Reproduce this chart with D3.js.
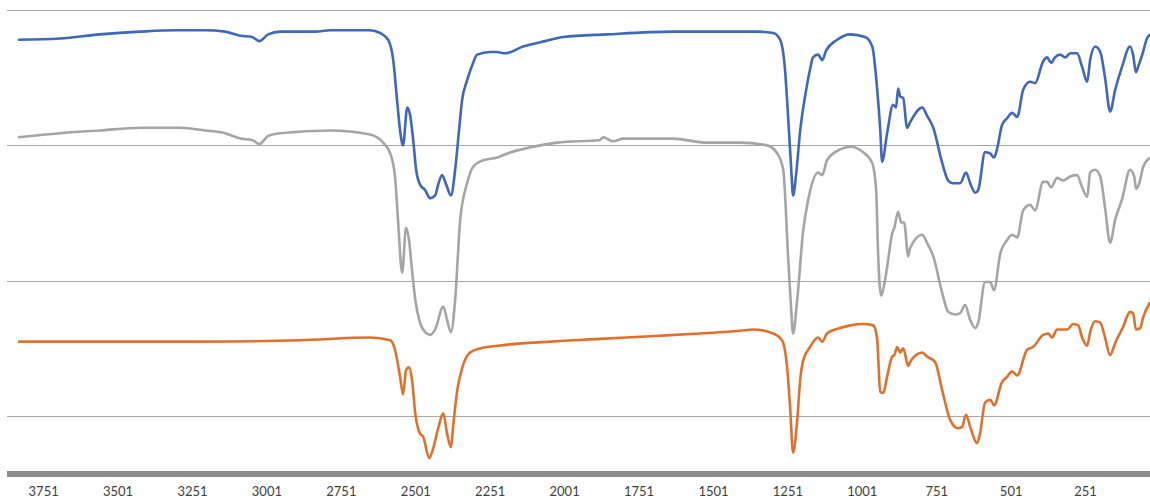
<!DOCTYPE html>
<html>
<head>
<meta charset="utf-8">
<script src="https://cdn.jsdelivr.net/npm/d3@7"></script>
<style>
  html, body { margin: 0; padding: 0; background: #fff; }
  .axis text { font-family: Lato, 'Open Sans', sans-serif; font-size: 13px; fill: #404040; }
</style>
</head>
<body>
<svg id="spectrum"></svg>
<script>
// wavenumber (cm-1) for each reading
const blueX = [3835, 3694, 3560, 3425, 3308, 3207, 3140, 3089, 3049, 3025, 2995, 2955, 2837, 2787, 2653, 2619, 2592, 2575, 2562, 2552, 2542, 2528, 2518, 2508, 2498, 2485, 2468, 2451, 2434, 2424, 2411, 2397, 2381, 2367, 2354, 2344, 2327, 2310, 2293, 2250, 2226, 2199, 2139, 2065, 2004, 1857, 1635, 1353, 1299, 1275, 1259, 1248, 1238, 1232, 1222, 1208, 1191, 1175, 1165, 1148, 1134, 1121, 1084, 1040, 990, 966, 950, 939, 933, 916, 896, 886, 879, 872, 862, 849, 839, 798, 782, 761, 731, 711, 694, 671, 651, 637, 620, 610, 587, 570, 557, 547, 530, 513, 496, 479, 459, 436, 419, 392, 379, 365, 352, 335, 318, 301, 278, 261, 244, 234, 217, 200, 184, 167, 150, 127, 100, 90, 80, 73, 59, 43, 33];
const blueY = [2.78, 2.79, 2.82, 2.84, 2.85, 2.85, 2.84, 2.81, 2.80, 2.77, 2.82, 2.84, 2.84, 2.85, 2.85, 2.83, 2.78, 2.63, 2.33, 2.11, 2.00, 2.28, 2.22, 2.04, 1.82, 1.71, 1.67, 1.61, 1.63, 1.71, 1.78, 1.71, 1.63, 1.82, 2.11, 2.33, 2.48, 2.59, 2.67, 2.69, 2.69, 2.68, 2.73, 2.77, 2.80, 2.82, 2.84, 2.84, 2.83, 2.78, 2.56, 2.19, 1.82, 1.63, 1.78, 2.11, 2.37, 2.56, 2.65, 2.67, 2.63, 2.70, 2.78, 2.82, 2.80, 2.73, 2.43, 2.11, 1.88, 2.09, 2.30, 2.28, 2.42, 2.36, 2.35, 2.13, 2.17, 2.28, 2.22, 2.13, 1.87, 1.74, 1.72, 1.72, 1.80, 1.72, 1.65, 1.67, 1.95, 1.94, 1.91, 1.97, 2.15, 2.20, 2.24, 2.21, 2.41, 2.47, 2.46, 2.62, 2.65, 2.61, 2.65, 2.67, 2.65, 2.68, 2.68, 2.58, 2.47, 2.63, 2.73, 2.69, 2.50, 2.25, 2.41, 2.58, 2.73, 2.67, 2.54, 2.58, 2.67, 2.79, 2.82];

const grayX = [3835, 3694, 3560, 3425, 3291, 3207, 3140, 3089, 3049, 3025, 2995, 2955, 2787, 2653, 2609, 2585, 2569, 2559, 2545, 2532, 2522, 2512, 2501, 2485, 2468, 2451, 2434, 2407, 2394, 2381, 2367, 2350, 2327, 2307, 2273, 2226, 2192, 2082, 2024, 1880, 1870, 1836, 1803, 1635, 1521, 1410, 1319, 1285, 1265, 1248, 1238, 1232, 1218, 1198, 1181, 1148, 1134, 1118, 1074, 1040, 997, 966, 953, 946, 936, 926, 916, 899, 892, 879, 869, 859, 845, 839, 798, 782, 761, 731, 711, 688, 671, 654, 637, 620, 610, 587, 570, 557, 536, 513, 496, 479, 459, 436, 419, 392, 379, 365, 345, 325, 301, 278, 261, 244, 234, 217, 200, 184, 167, 150, 127, 100, 86, 80, 69, 56, 33];
const grayY = [2.06, 2.09, 2.11, 2.13, 2.13, 2.11, 2.09, 2.05, 2.04, 2.01, 2.07, 2.09, 2.11, 2.08, 2.02, 1.94, 1.77, 1.45, 1.06, 1.39, 1.30, 1.08, 0.86, 0.69, 0.62, 0.60, 0.64, 0.81, 0.71, 0.62, 0.86, 1.45, 1.72, 1.84, 1.89, 1.91, 1.94, 2.00, 2.02, 2.04, 2.06, 2.03, 2.05, 2.05, 2.02, 2.02, 2.00, 1.94, 1.82, 1.15, 0.78, 0.61, 0.86, 1.37, 1.60, 1.80, 1.78, 1.89, 1.97, 1.99, 1.95, 1.87, 1.67, 1.18, 0.89, 0.97, 1.10, 1.35, 1.39, 1.51, 1.43, 1.43, 1.18, 1.24, 1.34, 1.28, 1.18, 0.91, 0.77, 0.75, 0.76, 0.82, 0.71, 0.65, 0.69, 0.99, 0.99, 0.93, 1.20, 1.30, 1.34, 1.32, 1.52, 1.56, 1.52, 1.73, 1.73, 1.69, 1.76, 1.74, 1.77, 1.78, 1.69, 1.62, 1.80, 1.82, 1.77, 1.54, 1.28, 1.45, 1.60, 1.82, 1.77, 1.68, 1.72, 1.84, 1.91];

const orangeX = [3835, 3560, 3224, 2888, 2653, 2585, 2569, 2552, 2542, 2532, 2522, 2512, 2501, 2485, 2475, 2454, 2441, 2424, 2407, 2394, 2381, 2374, 2360, 2344, 2317, 2283, 2223, 2048, 1880, 1712, 1544, 1410, 1366, 1299, 1269, 1252, 1242, 1232, 1218, 1208, 1198, 1175, 1148, 1134, 1118, 1074, 1040, 997, 963, 950, 939, 929, 916, 899, 892, 882, 872, 862, 845, 839, 798, 782, 755, 731, 704, 678, 664, 651, 637, 614, 604, 587, 570, 557, 530, 513, 496, 479, 446, 426, 392, 375, 362, 345, 311, 291, 274, 261, 244, 234, 217, 200, 184, 167, 150, 123, 100, 90, 80, 66, 56, 33];
const orangeY = [0.55, 0.55, 0.55, 0.56, 0.58, 0.56, 0.49, 0.29, 0.16, 0.34, 0.36, 0.27, 0.02, -0.13, -0.15, -0.31, -0.24, -0.09, 0.02, -0.13, -0.23, -0.08, 0.19, 0.35, 0.47, 0.50, 0.52, 0.55, 0.57, 0.59, 0.61, 0.63, 0.64, 0.61, 0.56, 0.36, 0.07, -0.27, -0.03, 0.27, 0.41, 0.51, 0.58, 0.55, 0.61, 0.65, 0.67, 0.68, 0.67, 0.58, 0.18, 0.17, 0.29, 0.44, 0.45, 0.51, 0.47, 0.50, 0.37, 0.40, 0.47, 0.44, 0.40, 0.19, -0.03, -0.09, -0.08, 0.01, -0.08, -0.20, -0.13, 0.10, 0.12, 0.08, 0.25, 0.29, 0.33, 0.30, 0.49, 0.51, 0.60, 0.61, 0.58, 0.64, 0.64, 0.68, 0.67, 0.58, 0.52, 0.62, 0.70, 0.69, 0.58, 0.45, 0.54, 0.66, 0.77, 0.76, 0.64, 0.65, 0.73, 0.84];

const tickLabels = [3751, 3501, 3251, 3001, 2751, 2501, 2251, 2001, 1751, 1501, 1251, 1001, 751, 501, 251];
const gridValues = [0, 1, 2, 3];

const svgWidth = 1150;
const svgHeight = 501;

const svg = d3.select('#spectrum')
  .attr('width', svgWidth)
  .attr('height', svgHeight);

const x = d3.scaleLinear()
  .domain([3869, 33])
  .range([8, 1150]);

const y = d3.scaleLinear()
  .domain([-0.428, 3])
  .range([474, 10]);

// horizontal gridlines
svg.append('g')
  .selectAll('line')
  .data(gridValues)
  .enter()
  .append('line')
  .attr('x1', 7)
  .attr('x2', svgWidth)
  .attr('y1', d => Math.round(y(d)) + 0.5)
  .attr('y2', d => Math.round(y(d)) + 0.5)
  .attr('stroke', '#a6a6a6')
  .attr('stroke-width', 1.2);

const series = [
  { xs: grayX, ys: grayY, color: '#a5a5a5' },
  { xs: orangeX, ys: orangeY, color: '#e2702b' },
  { xs: blueX, ys: blueY, color: '#3d68bb' },
];

const line = d3.line()
  .x(d => x(d[0]))
  .y(d => y(d[1]))
  .curve(d3.curveMonotoneX);

svg.append('g')
  .selectAll('path')
  .data(series)
  .enter()
  .append('path')
  .attr('d', s => line(d3.zip(s.xs, s.ys)))
  .attr('fill', 'none')
  .attr('stroke', s => s.color)
  .attr('stroke-width', 2.6)
  .attr('stroke-linejoin', 'round');

// x-axis
const axis = svg.append('g')
  .attr('class', 'axis')
  .attr('transform', `translate(0,${y(-0.428)})`)
  .call(d3.axisBottom(x).tickValues(tickLabels).tickFormat(d => d).tickSize(0).tickPadding(13));

axis.select('.domain')
  .attr('d', `M7,0H${svgWidth}`)
  .attr('stroke', '#8c8c8c')
  .attr('stroke-width', 6);
</script>
</body>
</html>
